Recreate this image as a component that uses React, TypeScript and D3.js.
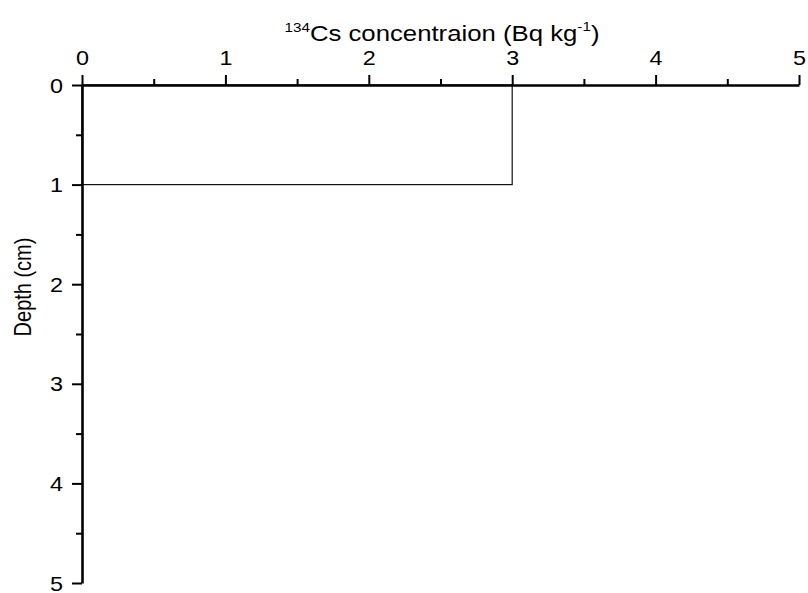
import { useEffect, useRef } from 'react'
import * as d3 from 'd3'

// depth layers (cm) and their 134Cs concentration (Bq/kg)
const depthTop = [0]
const depthBottom = [1]
const concentration = [3]

const xTicks = [0, 1, 2, 3, 4, 5]
const yTicks = [0, 1, 2, 3, 4, 5]
const xMinor = [0.5, 1.5, 2.5, 3.5, 4.5]
const yMinor = [0.5, 1.5, 2.5, 3.5, 4.5]

const STRETCH = 1.17
const FONT = 'Liberation Sans, Arial, sans-serif'

export default function App() {
  const svgRef = useRef<SVGSVGElement>(null)

  useEffect(() => {
    if (!svgRef.current) return
    const width = 808
    const height = 593

    const svg = d3.select(svgRef.current)
    svg.selectAll('*').remove()
    svg.attr('width', width).attr('height', height)

    const x = d3.scaleLinear().domain([0, 5]).range([82, 799])
    const y = d3.scaleLinear().domain([0, 5]).range([85, 583])

    const layers = concentration.map((v, i) => ({
      top: depthTop[i],
      bottom: depthBottom[i],
      value: v,
    }))

    // layer outline
    svg.selectAll('rect.layer')
      .data(layers)
      .join('rect')
      .attr('class', 'layer')
      .attr('x', x(0))
      .attr('y', d => y(d.top))
      .attr('width', d => x(d.value) - x(0))
      .attr('height', d => y(d.bottom) - y(d.top))
      .attr('fill', 'none')
      .attr('stroke', '#111')
      .attr('stroke-width', 1.2)

    // minor ticks
    svg.append('g')
      .attr('transform', `translate(0,${y(0)})`)
      .call(d3.axisTop(x).tickValues(xMinor).tickSize(6).tickSizeOuter(0).tickFormat(() => ''))
      .call(g => g.select('.domain').remove())
      .selectAll('line').attr('stroke-width', 2)

    svg.append('g')
      .attr('transform', `translate(${x(0)},0)`)
      .call(d3.axisLeft(y).tickValues(yMinor).tickSize(6).tickSizeOuter(0).tickFormat(() => ''))
      .call(g => g.select('.domain').remove())
      .selectAll('line').attr('stroke-width', 2)

    // X axis (top)
    const xAxis = svg.append('g')
      .attr('transform', `translate(0,${y(0)})`)
      .call(d3.axisTop(x).tickValues(xTicks).tickSize(10).tickSizeOuter(0).tickFormat(d3.format('d')))
    xAxis.select('.domain').attr('stroke-width', 2.6)
    xAxis.selectAll('line').attr('stroke-width', 2)
    xAxis.selectAll('text')
      .attr('font-family', FONT)
      .attr('font-size', 20)
      .attr('fill', '#000')
      .attr('y', -20)
      .attr('dy', 0)
      .attr('transform', `scale(${STRETCH},1)`)

    // Y axis (left)
    const yAxis = svg.append('g')
      .attr('transform', `translate(${x(0)},0)`)
      .call(d3.axisLeft(y).tickValues(yTicks).tickSize(10).tickSizeOuter(0).tickFormat(d3.format('d')))
    yAxis.select('.domain').attr('stroke-width', 2.6)
    yAxis.selectAll('line').attr('stroke-width', 2)
    yAxis.selectAll('text')
      .attr('font-family', FONT)
      .attr('font-size', 20)
      .attr('fill', '#000')
      .attr('x', -19 / STRETCH)
      .attr('dy', '0.35em')
      .attr('transform', `scale(${STRETCH},1)`)

    // X title
    const title = svg.append('text')
      .attr('transform', `translate(442,41) scale(${STRETCH},1)`)
      .attr('text-anchor', 'middle')
      .attr('font-family', FONT)
      .attr('font-size', 22)
      .attr('fill', '#000')
    title.append('tspan').attr('font-size', 13).attr('dy', -9).text('134')
    title.append('tspan').attr('dy', 9).text('Cs concentraion (Bq kg')
    title.append('tspan').attr('font-size', 13).attr('dy', -10).text('-1')
    title.append('tspan').attr('dy', 10).text(')')

    // Y title
    svg.append('text')
      .attr('transform', `translate(31,287) scale(${STRETCH},1) rotate(-90)`)
      .attr('text-anchor', 'middle')
      .attr('font-family', FONT)
      .attr('font-size', 20)
      .attr('fill', '#000')
      .text('Depth (cm)')
  }, [])

  return (
    <svg ref={svgRef} style={{ position: 'absolute', left: 0, top: 0, background: '#fff' }} />
  )
}
